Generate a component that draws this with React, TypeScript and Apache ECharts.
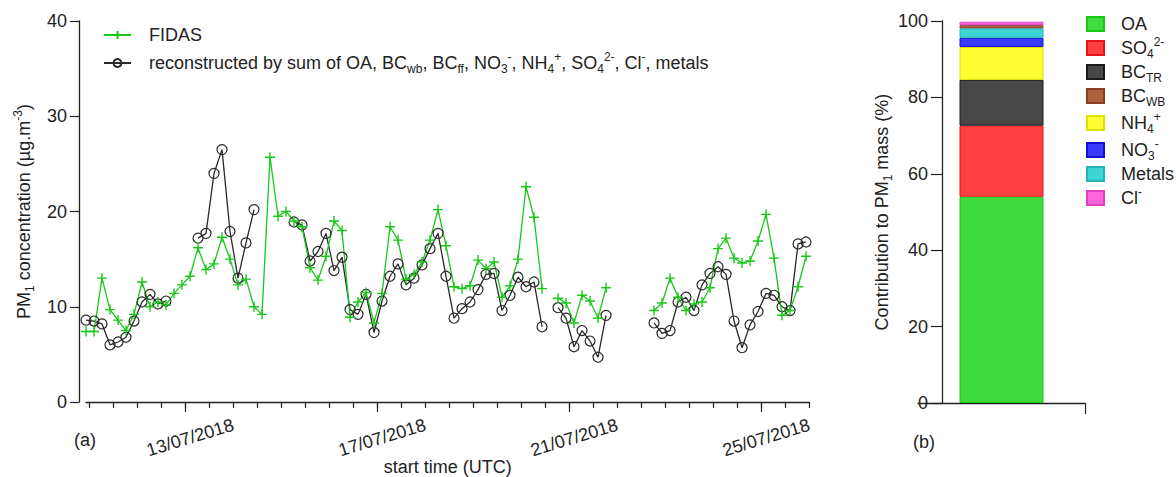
import React, { useEffect, useRef } from "react";
import * as echarts from "echarts";

// sampling: 4-hourly, first sample 10/07/2018 ~22:20 UTC (x in days after 11/07/2018 00:00 UTC)
const START_DAY = -0.07;
const STEP_DAY = 1 / 6;

const fidas: (number | null)[] = [
  7.4, 7.4, 13.0, 9.7, 8.6, 7.5, 9.2, 12.6, 10.0, 10.5,
  10.2, 11.4, 12.3, 13.2, 16.2, 13.9, 14.5, 17.3, 15.0, 12.3,
  12.9, 10.0, 9.2, 25.7, 19.5, 20.0, 19.0, 18.4, 14.1, 12.8,
  15.3, 19.0, 18.0, 8.9, 10.5, 11.5, 8.3, 11.4, 18.4, 17.0,
  12.9, 13.4, 14.7, 17.0, 20.2, 16.4, 12.1, 11.9, 12.2, 14.9,
  14.0, 14.7, 11.0, 12.2, 15.0, 22.6, 19.4, 11.9, null, 10.9,
  10.4, 8.3, 11.2, 10.6, 8.8, 12.0, null, null, null, null,
  null, 9.6, 10.4, 13.0, 11.0, 9.6, 10.3, 10.5, 12.0, 16.1,
  17.2, 15.1, 14.6, 14.8, 16.9, 19.7, 15.1, 9.1, 9.6, 12.1,
  15.3,
];

const recon: (number | null)[] = [
  8.6, 8.5, 8.2, 6.0, 6.3, 6.8, 8.5, 10.5, 11.3, 10.3,
  10.6, null, null, null, 17.2, 17.7, 24.0, 26.5, 17.9, 13.0,
  16.7, 20.2, null, null, null, null, 18.9, 18.6, 14.8, 15.8,
  17.7, 13.8, 15.2, 9.7, 9.2, 11.3, 7.3, 10.6, 13.2, 14.5,
  12.3, 13.0, 14.4, 16.1, 17.7, 13.2, 8.8, 9.8, 10.5, 11.8,
  13.4, 13.5, 9.6, 11.2, 13.1, 12.1, 12.6, 7.9, null, 9.9,
  8.8, 5.8, 7.5, 6.4, 4.7, 9.1, null, null, null, null,
  null, 8.3, 7.2, 7.5, 10.5, 11.0, 9.6, 12.3, 13.5, 14.2,
  13.4, 8.5, 5.7, 8.1, 9.5, 11.4, 11.2, 10.0, 9.6, 16.6,
  16.8,
];

const labelDays = [2, 6, 10, 14];
const dateLabels = ["13/07/2018", "17/07/2018", "21/07/2018", "25/07/2018"];
const halfDayTicks = Array.from({ length: 31 }, (_, i) => i * 0.5);

// composition (legend order)
const compNames = ["OA", "SO4", "BCTR", "BCWB", "NH4", "NO3", "Metals", "Cl"];
const compShares = [54.0, 18.6, 12.0, 0.8, 8.6, 2.4, 2.5, 0.9];
const compLabels = [
  "{n|OA}",
  "{n|SO}{b|4}{t|2-}",
  "{n|BC}{b|TR}",
  "{n|BC}{b|WB}",
  "{n|NH}{b|4}{t|+}",
  "{n|NO}{b|3}{t|-}",
  "{n|Metals}",
  "{n|Cl}{t|-}",
];
const compFill = ["#3fdb3f", "#ff4040", "#474747", "#b0613c", "#ffff33", "#3a3aff", "#3dd6d6", "#ff66dd"];
const compBorder = ["#16c816", "#e01414", "#1a1a1a", "#8a4020", "#e0e000", "#1414d0", "#22b4b4", "#e040c0"];
const stackOrder = ["OA", "SO4", "BCTR", "NH4", "NO3", "Metals", "BCWB", "Cl"];
const barCategory = ["PM1"];

const FONT = "Liberation Sans, Arial, sans-serif";
const INK = "#222";

const rich = {
  g: { width: 13 },
  h: { width: 12 },
  n: { fontSize: 18, lineHeight: 24, color: INK, fontFamily: FONT },
  b: { fontSize: 12, lineHeight: 12, verticalAlign: "bottom", color: INK, fontFamily: FONT },
  t: { fontSize: 12, lineHeight: 12, verticalAlign: "top", color: INK, fontFamily: FONT },
};

const GREEN = "#19c819";

export default function App() {
  const ref = useRef<HTMLDivElement>(null);
  useEffect(() => {
    if (!ref.current) return;
    const chart = echarts.init(ref.current, undefined, { renderer: "svg" });
    const pts = (arr: (number | null)[]) =>
      arr.map((v, k) => [START_DAY + k * STEP_DAY, v === null ? "-" : v]);

    const barSeries = stackOrder.map((name) => {
      const i = compNames.indexOf(name);
      return {
        name,
        type: "bar",
        xAxisIndex: 2,
        yAxisIndex: 1,
        stack: "total",
        barWidth: 84,
        data: [compShares[i]],
        itemStyle: { color: compFill[i], borderColor: compBorder[i], borderWidth: 1 },
      };
    });

    const option: any = {
      animation: false,
      textStyle: { fontFamily: FONT, color: INK },
      grid: [
        { left: 86, top: 21, width: 723.4, height: 381, containLabel: false, outerBoundsMode: "none" },
        { left: 918, top: 21, width: 167, height: 382, containLabel: false, outerBoundsMode: "none" },
      ],
      xAxis: [
        {
          gridIndex: 0,
          type: "value",
          position: "bottom",
          min: START_DAY,
          max: 15,
          axisLine: { onZero: false, lineStyle: { color: INK, width: 1.3 } },
          axisTick: { customValues: halfDayTicks, length: 6, lineStyle: { color: INK, width: 1.2 } },
          axisLabel: { show: false },
          splitLine: { show: false },
          name: "start time (UTC)",
          nameLocation: "middle",
          nameGap: 56,
          nameTextStyle: { fontSize: 18, color: INK, fontFamily: FONT },
        },
        {
          gridIndex: 0,
          type: "value",
          position: "bottom",
          min: START_DAY,
          max: 15,
          axisLine: { show: false, onZero: false },
          axisTick: { customValues: labelDays, length: 10, lineStyle: { color: INK, width: 1.2 } },
          axisLabel: {
            customValues: labelDays,
            formatter: (v: number) => dateLabels[labelDays.indexOf(Math.round(v))] ?? "",
            rotate: 17,
            align: "center",
            verticalAlign: "middle",
            margin: 37,
            padding: [0, 0, 0, 10],
            fontSize: 18,
            color: INK,
            fontFamily: FONT,
          },
          splitLine: { show: false },
        },
        {
          gridIndex: 1,
          type: "category",
          position: "bottom",
          data: barCategory,
          axisLine: { show: true, onZero: false, lineStyle: { color: INK, width: 1.3 } },
          axisTick: { show: false },
          axisLabel: { show: false },
          splitLine: { show: false },
        },
        {
          gridIndex: 1,
          type: "value",
          position: "bottom",
          min: 0,
          max: 1,
          axisLine: { show: false, onZero: false },
          axisTick: { customValues: [1], length: 11, lineStyle: { color: INK, width: 1.2 } },
          axisLabel: { show: false },
          splitLine: { show: false },
        },
      ],
      yAxis: [
        {
          gridIndex: 0,
          type: "value",
          min: 0,
          max: 40,
          interval: 10,
          offset: 7,
          axisLine: { show: true, onZero: false, lineStyle: { color: INK, width: 1.3 } },
          axisTick: { show: true, length: 9, lineStyle: { color: INK, width: 1.2 } },
          axisLabel: { fontSize: 18, color: INK, margin: 12, fontFamily: FONT },
          splitLine: { show: false },
          name: "{n|PM}{b|1}{n| concentration (µg.m}{t|-3}{n|)}",
          nameLocation: "middle",
          nameRotate: 90,
          nameGap: 40,
          nameTextStyle: { rich },
        },
        {
          gridIndex: 1,
          type: "value",
          min: 0,
          max: 100,
          interval: 20,
          offset: -24,
          axisLine: { show: true, onZero: false, lineStyle: { color: INK, width: 1.3 } },
          axisTick: { show: true, length: 11, lineStyle: { color: INK, width: 1.2 } },
          axisLabel: { fontSize: 18, color: INK, margin: 14, fontFamily: FONT },
          splitLine: { show: false },
          name: "{n|Contribution to PM}{b|1}{n| mass (%)}",
          nameLocation: "middle",
          nameRotate: 90,
          nameGap: 45,
          nameTextStyle: { rich },
        },
      ],
      legend: [
        {
          data: ["FIDAS", "recon"],
          orient: "vertical",
          left: 103,
          top: 26,
          padding: 0,
          itemWidth: 27,
          itemHeight: 10,
          itemGap: 7,
          selectedMode: false,
          formatter: (name: string) =>
            name === "FIDAS"
              ? "{g|}{n|FIDAS}"
              : "{g|}{n|reconstructed by sum of OA, BC}{b|wb}{n|, BC}{b|ff}{n|, NO}{b|3}{t|-}{n|, NH}{b|4}{t|+}{n|, SO}{b|4}{t|2-}{n|, Cl}{t|-}{n|, metals}",
          textStyle: { rich },
        },
        {
          data: compNames,
          orient: "vertical",
          left: 1086,
          top: 15,
          padding: 0,
          itemWidth: 17,
          itemHeight: 14,
          itemGap: 3,
          icon: "rect",
          selectedMode: false,
          formatter: (name: string) => "{h|}" + compLabels[compNames.indexOf(name)],
          textStyle: { rich },
        },
      ],
      graphic: [
        { type: "text", left: 74, top: 431, style: { text: "(a)", fontSize: 18, fill: INK, fontFamily: FONT } },
        { type: "text", left: 913, top: 433, style: { text: "(b)", fontSize: 18, fill: INK, fontFamily: FONT } },
      ],
      series: [
        {
          name: "recon",
          type: "line",
          xAxisIndex: 0,
          yAxisIndex: 0,
          data: pts(recon),
          connectNulls: false,
          clip: false,
          symbol: "circle",
          symbolSize: 10,
          lineStyle: { color: "#2a2a2a", width: 1.3 },
          itemStyle: { color: "rgba(0,0,0,0)", borderColor: "#2a2a2a", borderWidth: 1.2 },
        },
        {
          name: "FIDAS",
          type: "line",
          xAxisIndex: 0,
          yAxisIndex: 0,
          data: pts(fidas),
          connectNulls: false,
          clip: false,
          symbol: "path://M0,5L10,5M5,0L5,10",
          symbolSize: 10,
          lineStyle: { color: GREEN, width: 1.3 },
          itemStyle: { color: "rgba(0,0,0,0)", borderColor: GREEN, borderWidth: 1.4 },
        },
        ...barSeries,
      ],
    };
    chart.setOption(option);
    return () => chart.dispose();
  }, []);
  return (
    <div
      ref={ref}
      style={{ position: "fixed", left: 0, top: 0, width: 1176, height: 477, background: "#fff" }}
    />
  );
}
